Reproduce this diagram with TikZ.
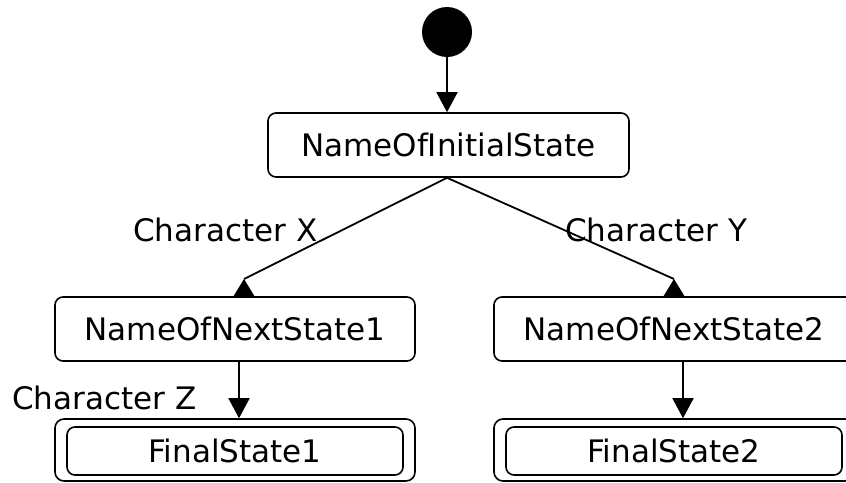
\documentclass[tikz,border=0pt]{standalone}
\usepackage{fontspec}
\setmainfont{DejaVu Sans}
\usetikzlibrary{arrows.meta,calc}
\begin{document}
\begin{tikzpicture}[x=1pt,y=-1pt,
  every node/.style={font=\fontsize{31}{36}\selectfont},
  statebox/.style={draw,line width=1.6pt,rounded corners=8pt,minimum width=360pt,minimum height=64pt,inner sep=0pt},
  outerbox/.style={draw,line width=1.6pt,rounded corners=9pt,minimum width=360pt,minimum height=62pt,inner sep=0pt},
  innerbox/.style={draw,line width=1.6pt,rounded corners=8pt,minimum width=336pt,minimum height=48pt,inner sep=0pt},
  lbl/.style={anchor=base west,inner sep=0pt},
  conn/.style={line width=1.8pt},
  arr/.style={conn,-{Triangle[length=20pt,width=21pt]}},
  tri/.style={fill=black}
]
\useasboundingbox (0,0) rectangle (846,482);
\node[circle,fill=black,minimum size=50pt,inner sep=0pt] (start) at (447,32) {};
\node[statebox,minimum width=361pt] (s0) at (448.5,145) {NameOfInitialState};
\node[statebox] (n1) at (235,329) {NameOfNextState1};
\node[statebox] (n2) at (674,329) {NameOfNextState2};
\node[outerbox] (f1o) at (235,450) {};
\node[innerbox] (f1) at (235,451) {FinalState1};
\node[outerbox] (f2o) at (674,450) {};
\node[innerbox] (f2) at (674,451) {FinalState2};
% labels
\node[lbl] (lx) at (133,241) {Character X};
\node[lbl] (ly) at (565,241) {Character Y};
\node[lbl] (lz) at (12,409) {Character Z};
% connectors
\draw[arr] (start.south) -- (start.south |- s0.north);
\coordinate (a1) at (244,279);
\coordinate (a2) at (674,279);
\draw[conn] (start.south |- s0.south) -- (a1);
\draw[conn] (start.south |- s0.south) -- (a2);
\fill[tri] (a1) -- ($(a1)+(-11,18)$) -- ($(a1)+(11,18)$) -- cycle;
\fill[tri] (a2) -- ($(a2)+(-11,18)$) -- ($(a2)+(11,18)$) -- cycle;
\draw[arr] ([xshift=4pt]n1.south) -- ([xshift=4pt]f1o.north);
\draw[arr] ([xshift=9pt]n2.south) -- ([xshift=9pt]f2o.north);
\end{tikzpicture}
\end{document}
